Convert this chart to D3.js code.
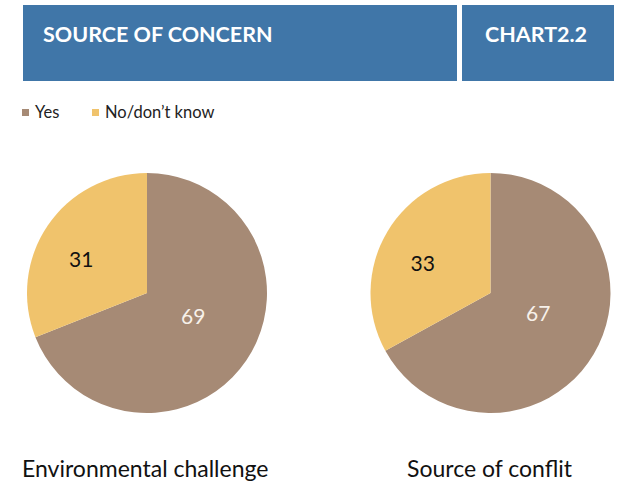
<!DOCTYPE html>
<html><head><meta charset="utf-8">
<script src="https://cdn.jsdelivr.net/npm/d3@7"></script>
<style>body{margin:0;background:#fff}svg{display:block}</style>
</head><body>
<svg id="c" width="626" height="490"></svg>
<script>
const title = "SOURCE OF CONCERN";
const chartId = "CHART2.2";
const categories = ["Yes", "No/don\u2019t know"];
const pieNames = ["Environmental challenge", "Source of conflit"];
const yesValues = [69, 67];
const noValues = [31, 33];
const colors = ["#a68a75", "#f0c36c"];

const svg = d3.select("#c");
const font = "Lato, 'Open Sans', sans-serif";

// header
svg.append("rect").attr("x",23).attr("y",5).attr("width",434).attr("height",76).attr("fill","#4076a8");
svg.append("rect").attr("x",462).attr("y",5).attr("width",152).attr("height",76).attr("fill","#4076a8");
svg.append("text").attr("x",43).attr("y",42).text(title)
  .attr("font-family",font).attr("font-weight",700).attr("font-size",21.5).attr("fill","#fff");
svg.append("text").attr("x",485).attr("y",42).text(chartId)
  .attr("font-family",font).attr("font-weight",700).attr("font-size",21.5).attr("fill","#fff");

// legend
const legX = [22, 92];
categories.forEach((c,i)=>{
  svg.append("rect").attr("x",legX[i]).attr("y",109).attr("width",7).attr("height",7).attr("fill",colors[i]);
  svg.append("text").attr("x",legX[i]+13).attr("y",118).text(c)
    .attr("font-family",font).attr("font-size",16.5).attr("fill","#222");
});

// pies
const centers = [147, 490.5];
const cy = 293, R = 120;
const pie = d3.pie().sort(null).value(d=>d.v);
const arc = d3.arc().innerRadius(0).outerRadius(R);
const labelR = [52, 74];
const shift = -7 * Math.PI/180;
const labelFill = ["#f7f1ea", "#111"];
centers.forEach((cx,k)=>{
  const data = [{c:categories[0], v:yesValues[k]}, {c:categories[1], v:noValues[k]}];
  const g = svg.append("g").attr("transform",`translate(${cx},${cy})`);
  const arcs = pie(data);
  g.selectAll("path").data(arcs).join("path").attr("d",arc).attr("fill",(d,i)=>colors[i]);
  g.selectAll("text").data(arcs).join("text")
    .attr("transform",(d,i)=>{
      const a=(d.startAngle+d.endAngle)/2 + shift;
      return `translate(${Math.sin(a)*labelR[i]},${-Math.cos(a)*labelR[i]})`;
    })
    .attr("text-anchor","middle").attr("dy","0.36em")
    .attr("font-family",font).attr("font-size",21).attr("fill",(d,i)=>labelFill[i])
    .text(d=>d.data.v);
  svg.append("text").attr("x",k===0?22:407).attr("y",477).text(pieNames[k])
    .attr("font-family",font).attr("font-size",23).attr("fill","#111");
});
</script>
</body></html>
